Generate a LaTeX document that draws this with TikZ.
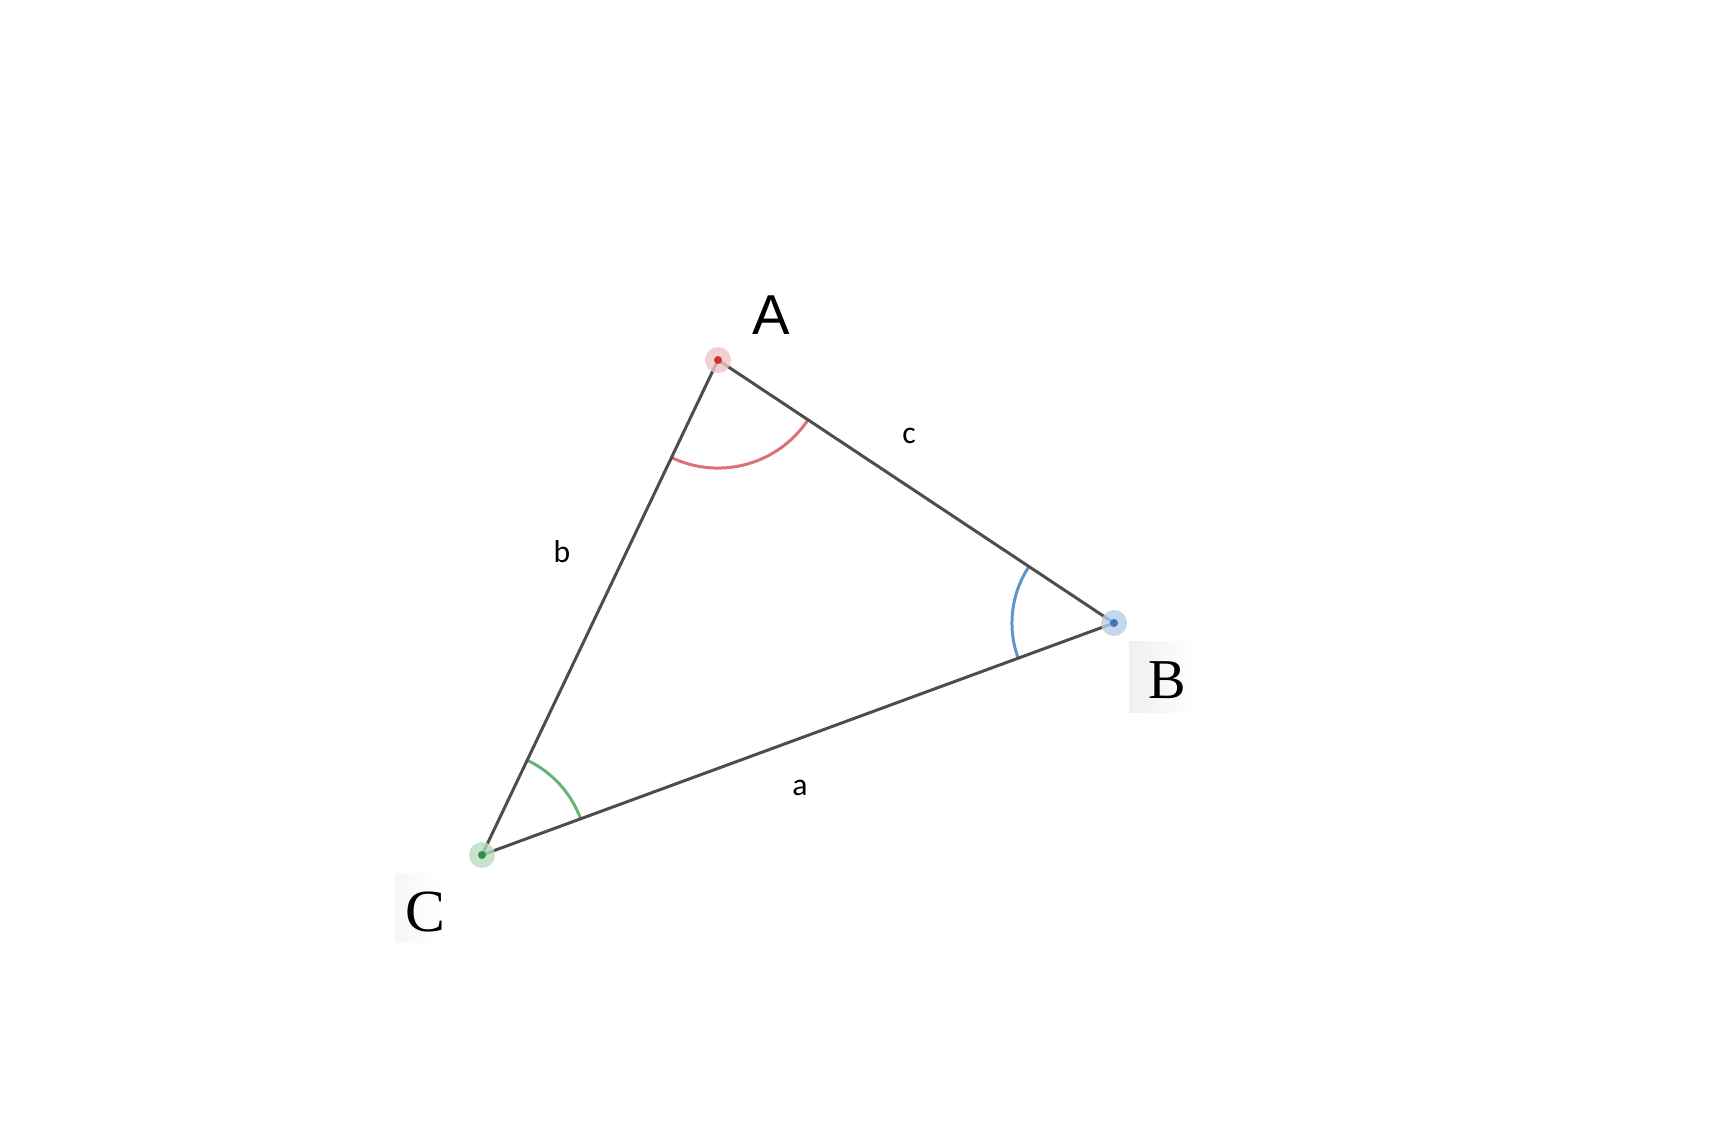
\documentclass[tikz,border=0pt]{standalone}
\usepackage{fontspec}
\setmainfont{Liberation Serif}
\newfontfamily\sidefont{Carlito}
\newfontfamily\vertfont{Liberation Sans}
\usepackage{tikz}
\usetikzlibrary{angles, calc}

\definecolor{edgegray}{HTML}{4D4D4D}
\definecolor{redarc}{HTML}{DD7070}
\definecolor{redhalo}{HTML}{EFC4C4}
\definecolor{reddot}{HTML}{CC3333}
\definecolor{bluearc}{HTML}{5E95CC}
\definecolor{bluehalo}{HTML}{B5CDE8}
\definecolor{bluedot}{HTML}{3A78B8}
\definecolor{greenarc}{HTML}{66B37A}
\definecolor{greenhalo}{HTML}{B9DCC1}
\definecolor{greendot}{HTML}{2F8F45}

\begin{document}
\begin{tikzpicture}[x=0.01cm, y=-0.01cm,
    side/.style={line width=0.85pt, edgegray},
    anglearc/.style={line width=0.85pt, angle radius=1.05cm},
    sidelabel/.style={font=\sidefont\fontsize{9}{11}\selectfont, inner sep=0pt}]
    \useasboundingbox (0,0) rectangle (1720,1126);

    % Vertices
    \coordinate (A) at (718,360);
    \coordinate (B) at (1114,623);
    \coordinate (C) at (482,855);

    % Faint backgrounds behind B and C
    \shade[left color=gray!12, right color=white] (1129,641) rectangle (1198,712);
    \shade[left color=gray!7, right color=white] (395,873) rectangle (440,942);

    % Angle arcs
    \pic[draw=redarc, anglearc, angle radius=1.08cm] {angle = C--A--B};
    \pic[draw=bluearc, anglearc, angle radius=1.02cm] {angle = A--B--C};
    \pic[draw=greenarc, anglearc] {angle = B--C--A};

    % Sides
    \draw[side] (A) -- (B);
    \draw[side] (B) -- (C);
    \draw[side] (C) -- (A);

    % Vertex dots
    \fill[redhalo, opacity=0.8] (A) circle (0.13cm);
    \fill[reddot] (A) circle (0.04cm);
    \fill[bluehalo, opacity=0.8] (B) circle (0.13cm);
    \fill[bluedot] (B) circle (0.04cm);
    \fill[greenhalo, opacity=0.8] (C) circle (0.13cm);
    \fill[greendot] (C) circle (0.04cm);

    % Vertex labels
    \node[font=\vertfont\fontsize{16}{19}\selectfont, inner sep=0pt] (labA) at (771,315) {A};
    \node[font=\fontsize{16}{19}\selectfont, inner sep=0pt] (labB) at (1167,680) {B};
    \node[font=\fontsize{17}{20}\selectfont, inner sep=0pt] (labC) at (425,912) {C};

    % Side labels
    \node[sidelabel] (laba) at (800,788) {a};
    \node[sidelabel] (labb) at (562,552) {b};
    \node[sidelabel] (labc) at (909,436) {c};
\end{tikzpicture}
\end{document}
